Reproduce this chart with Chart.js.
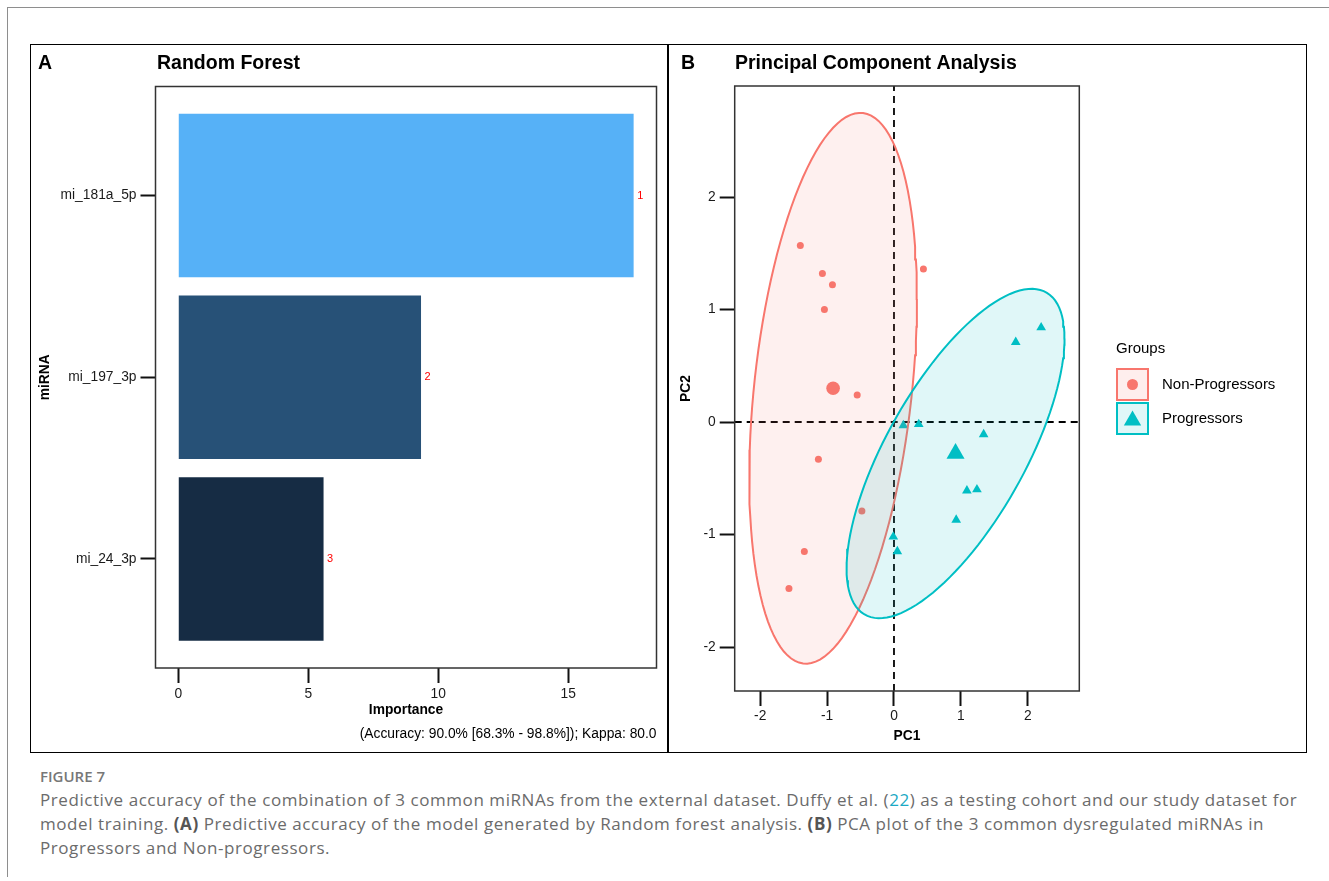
<!DOCTYPE html>
<html>
<head>
<meta charset="utf-8">
<script src="https://cdn.jsdelivr.net/npm/chart.js@4.4.1/dist/chart.umd.min.js"></script>
<style>
  body { margin: 0; background: #fff; width: 1329px; height: 881px; position: relative; overflow: hidden; }
  #frame-top { position: absolute; left: 7px; top: 7px; width: 1322px; border-top: 1.5px solid #8e8e8e; }
  #frame-left { position: absolute; left: 7px; top: 7px; height: 870px; border-left: 1.5px solid #8e8e8e; }
  #box { position: absolute; left: 30px; top: 44px; width: 1275px; height: 707px; border: 1.5px solid #000; z-index: 2; }
  #divider { position: absolute; left: 667px; top: 44px; width: 2px; height: 709px; background: #000; z-index: 2; }
  canvas { position: absolute; }
  #rf { left: 30px; top: 44px; }
  #pca { left: 668px; top: 44px; }
  #caption { position: absolute; left: 40px; top: 764px; font-family: "Open Sans", sans-serif; color: #6b6b6b; white-space: nowrap; }
  #caption .fig { font-size: 15px; font-weight: 600; line-height: 24px; color: #777; }
  #caption .line { font-size: 17px; line-height: 24px; letter-spacing: 0.57px; }
  #caption b { color: #555; font-weight: 700; }
  #caption .ref { color: #1aa9c4; }
</style>
</head>
<body>
<div id="frame-top"></div>
<div id="frame-left"></div>
<div id="box"></div>
<div id="divider"></div>
<canvas id="rf" width="638" height="709"></canvas>
<canvas id="pca" width="639" height="709"></canvas>
<div id="caption">
  <div class="fig">FIGURE 7</div>
  <div class="line">Predictive accuracy of the combination of 3 common miRNAs from the external dataset. Duffy et al. (<span class="ref">22</span>) as a testing cohort and our study dataset for</div>
  <div class="line">model training. <b>(A)</b> Predictive accuracy of the model generated by Random forest analysis. <b>(B)</b> PCA plot of the 3 common dysregulated miRNAs in</div>
  <div class="line">Progressors and Non-progressors.</div>
</div>
<script>
// ---- panel A: random forest importance ----
const mirnas = ['mi_181a_5p', 'mi_197_3p', 'mi_24_3p'];
const importance = [17.52, 9.34, 5.59];
const rankLabels = ['1', '2', '3'];
const barColors = ['#56B1F7', '#275177', '#162C44'];
const importanceTicks = [0, 5, 10, 15];
const accuracyNote = '(Accuracy: 90.0% [68.3% - 98.8%]); Kappa: 80.0';

// ---- panel B: PCA individuals ----
const nonProgressors = [
    { x: -1.40, y: 1.57 }, { x: -1.07, y: 1.32 }, { x: -0.92, y: 1.22 }, { x: -1.04, y: 1.00 },
    { x: 0.44, y: 1.36 }, { x: -0.55, y: 0.24 }, { x: -1.13, y: -0.33 }, { x: -0.48, y: -0.79 },
    { x: -1.34, y: -1.15 }, { x: -1.57, y: -1.48 }
];
const progressors = [
    { x: 0.14, y: -0.03 }, { x: 0.37, y: -0.02 }, { x: 1.34, y: -0.11 }, { x: 1.09, y: -0.61 },
    { x: 1.24, y: -0.60 }, { x: 0.93, y: -0.87 }, { x: -0.01, y: -1.02 }, { x: 0.05, y: -1.15 },
    { x: 1.82, y: 0.71 }, { x: 2.20, y: 0.84 }
];
const centroidNP = [{ x: -0.91, y: 0.30 }];
const centroidP = [{ x: 0.92, y: -0.28 }];
// ellipse spread: [sd x, sd y, correlation]
const ellipseNP = [1.253, 2.448, 0.324];
const ellipseP = [1.629, 1.464, 0.699];
const pcTicks = [-2, -1, 0, 1, 2];
const groupNames = ['Non-Progressors', 'Progressors'];

const RED = '#F8766D';
const TEAL = '#00BFC4';
const FONT = "'Liberation Sans', Arial, sans-serif";

Chart.defaults.font.family = FONT;
Chart.defaults.color = '#1a1a1a';

function ellipsePoints(center, spread) {
    const [sx, sy, r] = spread;
    const pts = [];
    for (let i = 0; i <= 120; i++) {
        const t = i / 120 * 2 * Math.PI;
        pts.push({
            x: center.x + sx * Math.cos(t),
            y: center.y + sy * (r * Math.cos(t) + Math.sqrt(1 - r * r) * Math.sin(t))
        });
    }
    return pts;
}

function tickAxis(ticksList, width, height) {
    return {
        type: 'linear',
        offset: false,
        afterBuildTicks: (s) => { s.ticks = ticksList.map(v => ({ value: v })); },
        afterFit: (s) => {
            if (width !== undefined) s.width = width;
            if (height !== undefined) s.height = height;
        },
        grid: { display: true, offset: false, drawOnChartArea: false, drawTicks: true, tickLength: 15, tickWidth: 2, tickColor: '#111' },
        border: { display: false },
        ticks: { color: '#1a1a1a', font: { size: 13.8 }, padding: 3, maxRotation: 0, autoSkip: false }
    };
}

const panelAText = {
    id: 'panelAText',
    afterDraw(chart) {
        const { ctx, chartArea: a, scales } = chart;
        ctx.save();
        ctx.strokeStyle = '#333';
        ctx.lineWidth = 1.5;
        ctx.strokeRect(a.left, a.top, a.right - a.left, a.bottom - a.top);

        ctx.fillStyle = '#ff0000';
        ctx.font = '11px ' + FONT;
        ctx.textAlign = 'left';
        ctx.textBaseline = 'middle';
        importance.forEach((v, i) => {
            ctx.fillText(rankLabels[i], scales.x.getPixelForValue(v) + 3.5, scales.y.getPixelForValue(i + 1));
        });

        ctx.fillStyle = '#000';
        ctx.font = 'bold 19.5px ' + FONT;
        ctx.fillText('A', 8, 20);
        ctx.fillText('Random Forest', 127, 20);

        ctx.font = 'bold 13.8px ' + FONT;
        ctx.textAlign = 'center';
        ctx.fillText('Importance', (a.left + a.right) / 2, 666);
        ctx.save();
        ctx.translate(15, (a.top + a.bottom) / 2);
        ctx.rotate(-Math.PI / 2);
        ctx.fillText('miRNA', 0, 0);
        ctx.restore();

        ctx.font = '13.8px ' + FONT;
        ctx.textAlign = 'right';
        ctx.fillText(accuracyNote, a.right, 690);
        ctx.restore();
    }
};

const rfX = tickAxis(importanceTicks, undefined, 85);
rfX.min = -0.876;
rfX.max = 18.40;
const rfY = tickAxis([1, 2, 3], 125.5, undefined);
rfY.min = 0.4;
rfY.max = 3.6;
rfY.reverse = true;
rfY.ticks.padding = 4;
rfY.ticks.callback = (v) => mirnas[Math.round(v) - 1];

new Chart(document.getElementById('rf'), {
    type: 'bar',
    data: {
        datasets: [{
            data: importance.map((v, i) => ({ x: v, y: i + 1 })),
            backgroundColor: barColors,
            borderWidth: 0,
            barPercentage: 0.9,
            categoryPercentage: 1.0
        }]
    },
    options: {
        indexAxis: 'y',
        responsive: false,
        animation: false,
        events: [],
        layout: { padding: { top: 42.5, right: 11.5, left: 0, bottom: 0 } },
        plugins: { legend: { display: false }, tooltip: { enabled: false } },
        scales: { x: rfX, y: rfY }
    },
    plugins: [panelAText]
});

const panelBText = {
    id: 'panelBText',
    afterDraw(chart) {
        const { ctx, chartArea: a } = chart;
        ctx.save();
        ctx.strokeStyle = '#333';
        ctx.lineWidth = 1.5;
        ctx.strokeRect(a.left, a.top, a.right - a.left, a.bottom - a.top);

        ctx.fillStyle = '#000';
        ctx.textBaseline = 'middle';
        ctx.textAlign = 'left';
        ctx.font = 'bold 19.5px ' + FONT;
        ctx.fillText('B', 13, 20);
        ctx.fillText('Principal Component Analysis', 67, 20);

        ctx.font = 'bold 13.8px ' + FONT;
        ctx.textAlign = 'center';
        ctx.fillText('PC1', (a.left + a.right) / 2, 692);
        ctx.save();
        ctx.translate(18, (a.top + a.bottom) / 2);
        ctx.rotate(-Math.PI / 2);
        ctx.fillText('PC2', 0, 0);
        ctx.restore();

        // legend
        ctx.textAlign = 'left';
        ctx.font = '15px ' + FONT;
        ctx.fillText('Groups', 448, 305);
        const keys = [
            { color: RED, fill: 'rgba(248,118,109,0.12)', style: 'circle', radius: 5.5, top: 325 },
            { color: TEAL, fill: 'rgba(0,191,196,0.12)', style: 'triangle', radius: 10, top: 359 }
        ];
        keys.forEach((k, i) => {
            ctx.fillStyle = k.fill;
            ctx.fillRect(449, k.top, 31, 31);
            ctx.strokeStyle = k.color;
            ctx.lineWidth = 2;
            ctx.strokeRect(449, k.top, 31, 31);
            ctx.fillStyle = k.color;
            Chart.helpers.drawPoint(ctx, { pointStyle: k.style, radius: k.radius, borderWidth: 0, rotation: 0 },
                464.5, k.top + 15.5 + (k.style === 'triangle' ? 2 : 0));
            ctx.fillStyle = '#000';
            ctx.fillText(groupNames[i], 494, k.top + 16);
        });
        ctx.restore();
    }
};

const pcX = tickAxis(pcTicks, undefined, 62);
pcX.min = -2.381;
pcX.max = 2.770;
pcX.ticks.padding = 2;
const pcY = tickAxis(pcTicks, 66.7, undefined);
pcY.min = -2.391;
pcY.max = 2.987;
pcY.ticks.padding = 4;

new Chart(document.getElementById('pca'), {
    type: 'scatter',
    data: {
        datasets: [
            {
                type: 'line', data: [{ x: 0, y: pcY.min }, { x: 0, y: pcY.max }],
                borderColor: '#000', borderWidth: 1.8, borderDash: [7, 5], pointRadius: 0, fill: false, order: 6
            },
            {
                type: 'line', data: [{ x: pcX.min, y: 0 }, { x: pcX.max, y: 0 }],
                borderColor: '#000', borderWidth: 1.8, borderDash: [7, 5], pointRadius: 0, fill: false, order: 6
            },
            {
                label: groupNames[0], data: nonProgressors, pointStyle: 'circle', pointRadius: 3.5,
                backgroundColor: RED, borderWidth: 0, order: 4
            },
            {
                label: groupNames[1], data: progressors, pointStyle: 'triangle', pointRadius: 5.6,
                backgroundColor: TEAL, borderWidth: 0, order: 4
            },
            {
                data: centroidNP, pointStyle: 'circle', pointRadius: 6.8,
                backgroundColor: RED, borderWidth: 0, order: 3
            },
            {
                data: centroidP, pointStyle: 'triangle', pointRadius: 10.4,
                backgroundColor: TEAL, borderWidth: 0, order: 3
            },
            {
                type: 'line', data: ellipsePoints(centroidNP[0], ellipseNP),
                borderColor: RED, borderWidth: 2, backgroundColor: 'rgba(248,118,109,0.11)',
                fill: 'shape', pointRadius: 0, tension: 0, order: 2
            },
            {
                type: 'line', data: ellipsePoints(centroidP[0], ellipseP),
                borderColor: TEAL, borderWidth: 2, backgroundColor: 'rgba(0,191,196,0.12)',
                fill: 'shape', pointRadius: 0, tension: 0, order: 1
            }
        ]
    },
    options: {
        responsive: false,
        animation: false,
        events: [],
        layout: { padding: { top: 42, right: 227.7, left: 0, bottom: 0 } },
        plugins: { legend: { display: false }, tooltip: { enabled: false } },
        scales: { x: pcX, y: pcY }
    },
    plugins: [panelBText]
});
</script>
</body>
</html>
